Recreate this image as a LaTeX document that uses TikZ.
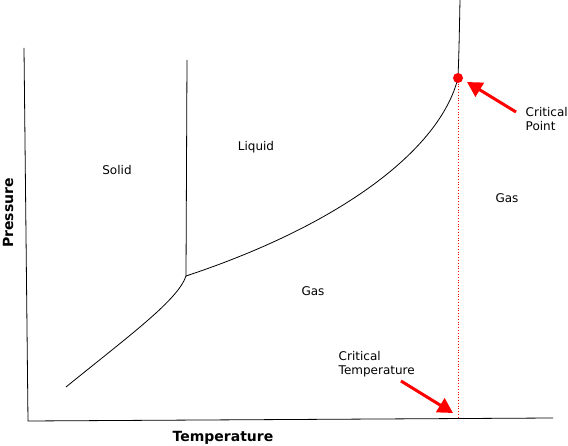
\documentclass[tikz,border=0pt]{standalone}
\usepackage{fontspec}
\setmainfont{DejaVu Sans}
\usetikzlibrary{arrows.meta,positioning}

\begin{document}
\begin{tikzpicture}[x=1pt,y=-1pt,line width=0.8pt,
  phase/.style={font=\fontsize{12}{13.5}\selectfont},
  axislabel/.style={font=\fontsize{14}{15}\selectfont\bfseries},
  redarrow/.style={red,line width=3pt,-{Triangle[length=15pt,width=16pt]}}]
\useasboundingbox (0,0) rectangle (568,446);

\coordinate (ytop) at (24,48);
\coordinate (origin) at (28,421);
\coordinate (xend) at (553,418);
\coordinate (triple) at (186,276);
\coordinate (fustop) at (187,60);
\coordinate (sublow) at (66,387);
\coordinate (cp) at (458,78);
\coordinate (cptop) at (460,0);
\coordinate (cpfoot) at (458,418);

\draw (ytop) -- (origin) -- (xend);
\draw (fustop) -- (triple);
\draw (sublow) .. controls (130,335) and (178,300) .. (triple);
\draw (triple) .. controls (340,225) and (440,150) .. (cp);
\draw (cp) .. controls (459,50) .. (cptop);
\draw[red,dotted,thick] (cp) -- (cpfoot);
\fill[red] (cp) circle (5);

\node[phase] (solid) at (117,170) {Solid};
\node[phase] (liquid) at (256,147) {Liquid};
\node[phase] (gas1) at (313,291) {Gas};
\node[phase] (gas2) at (507,198) {Gas};
\node[phase,align=left,anchor=west] (cplabel) at (522,119) {Critical\\Point};
\node[phase,align=left,anchor=west] (ctlabel) at (335,364) {Critical\\Temperature};
\node[axislabel] (tlabel) at (223,438) {Temperature};
\node[axislabel,rotate=90] (plabel) at (8,213) {Pressure};

\coordinate (cptail) at (516,112);
\coordinate (cphead) at (467,82);
\coordinate (cttail) at (401,381);
\coordinate (cthead) at (453,413);
\draw[redarrow] (cptail) -- (cphead);
\draw[redarrow] (cttail) -- (cthead);
\end{tikzpicture}
\end{document}
